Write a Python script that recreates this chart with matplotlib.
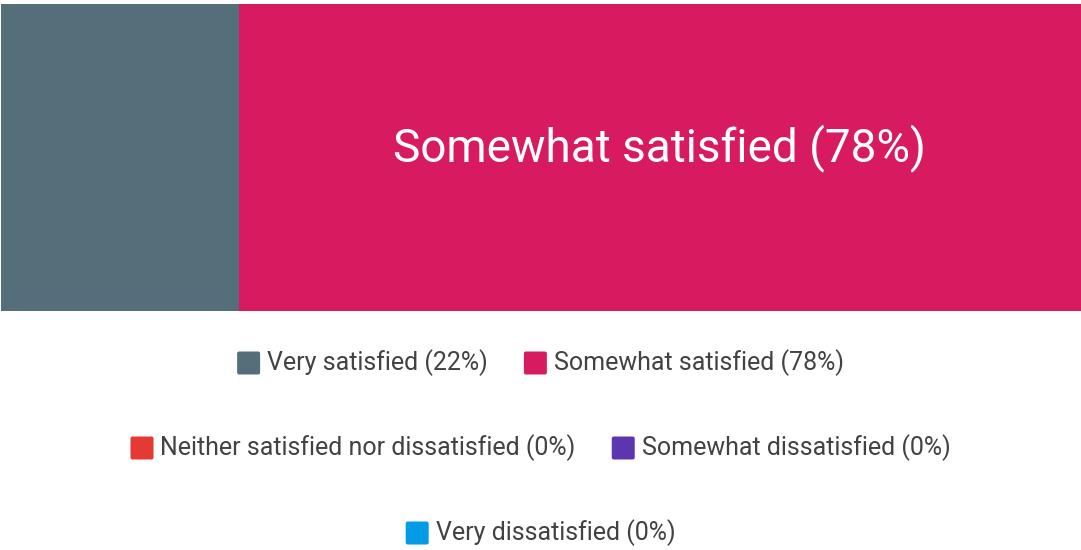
import matplotlib.pyplot as plt
from matplotlib.patches import FancyBboxPatch

# survey result: share of respondents per answer
answers = ['Very satisfied', 'Somewhat satisfied', 'Neither satisfied nor dissatisfied',
           'Somewhat dissatisfied', 'Very dissatisfied']
shares = [22, 78, 0, 0, 0]
colors = ['#546E7A', '#D81B60', '#E53935', '#5E35B1', '#039BE5']
legend_rows = [[0, 1], [2, 3], [4]]

plt.rcParams['font.family'] = ['Roboto', 'DejaVu Sans']

W, H = 1081, 550
fig = plt.figure(figsize=(W / 100, H / 100), dpi=100)
ax = fig.add_axes([1 / W, (H - 311) / H, 1 - 1 / W, 307 / H])

left = 0
for name, val, col in zip(answers, shares, colors):
    if val > 0:
        ax.barh(0, val, left=left, height=1, color=col, linewidth=0)
        if val >= 50:
            ax.text(left + val / 2, 0.03, f'{name} ({val}%)', color='white',
                    fontsize=33, ha='center', va='center')
    left += val
ax.set_xlim(0, 100)
ax.set_ylim(-0.5, 0.5)
ax.axis('off')

# legend, laid out by hand in pixel coordinates, one centred row at a time
fig.canvas.draw()
renderer = fig.canvas.get_renderer()
box, gap, item_gap = 23, 7, 36
row_y = [363, 448, 533]
for row, yc in zip(legend_rows, row_y):
    labels = [f'{answers[i]} ({shares[i]}%)' for i in row]
    texts = [fig.text(0, 0, s, fontsize=18, color='#424242', va='center') for s in labels]
    widths = [t.get_window_extent(renderer).width for t in texts]
    total = sum(box + gap + w for w in widths) + item_gap * (len(row) - 1)
    x = (W - total) / 2
    y = H - yc
    for i, t, w in zip(row, texts, widths):
        fig.patches.append(FancyBboxPatch((x + 2, y - box / 2 + 2), box - 4, box - 4,
                                          boxstyle='round,pad=2', transform=None,
                                          facecolor=colors[i], edgecolor='none'))
        t.set_position(((x + box + gap) / W, y / H))
        x += box + gap + w + item_gap

fig.savefig('out.png', dpi=100)
